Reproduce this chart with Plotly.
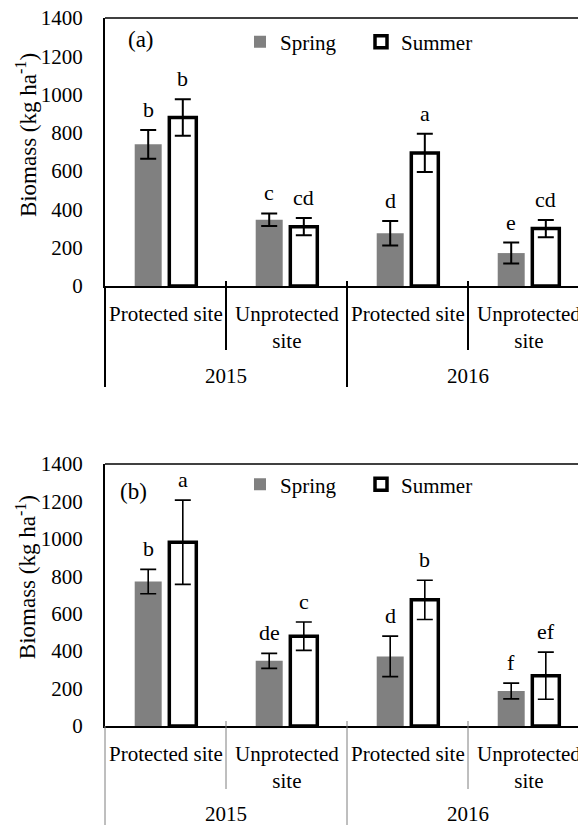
import plotly.graph_objects as go

# ---------------- data ----------------
sites = ["Protected site", "Unprotected<br>site", "Protected site", "Unprotected<br>site"]
years = ["2015", "2016"]
seasons = ["Spring", "Summer"]

# Panel (a)
a_spring = [740, 346, 276, 172]
a_spring_err = [75, 33, 64, 55]
a_summer = [880, 310, 695, 300]
a_summer_err = [95, 45, 100, 45]
a_spring_letters = ["b", "c", "d", "e"]
a_summer_letters = ["b", "cd", "a", "cd"]

# Panel (b)
b_spring = [772, 348, 372, 187]
b_spring_err = [65, 40, 108, 42]
b_summer = [982, 480, 674, 269]
b_summer_err = [225, 76, 105, 126]
b_spring_letters = ["b", "de", "d", "f"]
b_summer_letters = ["a", "c", "b", "ef"]

# ---------------- style ----------------
FONT = "Liberation Serif, Times New Roman, Times, serif"
W, H = 578, 825
GRAY = "#808080"
BARGAP = 0.428
BARGROUPGAP = 0.22
slot = (1 - BARGAP) / 2
offs = [-slot / 2, slot / 2]

x_idx = list(range(len(sites)))

fig = go.Figure()

panels = [
    dict(xa="x", ya="y", leg="legend", sp=a_spring, spe=a_spring_err, su=a_summer, sue=a_summer_err,
         spl=a_spring_letters, sul=a_summer_letters, ew=2.0),
    dict(xa="x2", ya="y2", leg="legend2", sp=b_spring, spe=b_spring_err, su=b_summer, sue=b_summer_err,
         spl=b_spring_letters, sul=b_summer_letters, ew=1.6),
]

for p in panels:
    fig.add_trace(go.Bar(
        x=x_idx, y=p["sp"], name=seasons[0], xaxis=p["xa"], yaxis=p["ya"], legend=p["leg"],
        marker=dict(color=GRAY, line=dict(width=0)),
        error_y=dict(type="data", array=p["spe"], color="black", thickness=p["ew"], width=8),
    ))
    fig.add_trace(go.Bar(
        x=x_idx, y=p["su"], name=seasons[1], xaxis=p["xa"], yaxis=p["ya"], legend=p["leg"],
        marker=dict(color="white", line=dict(width=3.5, color="black")),
        error_y=dict(type="data", array=p["sue"], color="black", thickness=p["ew"], width=8),
    ))

annotations = []
shapes = []

def letters(xref, yref, vals, errs, labs, off):
    for i, (v, e, t) in enumerate(zip(vals, errs, labs)):
        annotations.append(dict(
            x=i + off, y=v + e, xref=xref, yref=yref, text=t, showarrow=False,
            yanchor="bottom", yshift=6, font=dict(family=FONT, size=22, color="black")))

axis_common_x = dict(range=[-0.5, 3.409], showticklabels=False, showgrid=False, zeroline=False,
                     showline=True, linecolor="black", linewidth=2, ticks="", fixedrange=True,
                     automargin=False)
axis_common_y = dict(range=[0, 1400], dtick=200, showgrid=False, zeroline=False,
                     showline=True, linecolor="black", linewidth=2, ticks="",
                     ticklabelstandoff=16, automargin=False, fixedrange=True,
                     tickfont=dict(family=FONT, size=21, color="black"))

x_dom = [105 / W, 1.0]
ya_dom = [1 - 286 / H, 1 - 18 / H]
yb_dom = [1 - 726 / H, 1 - 464 / H]

fig.update_layout(
    xaxis=dict(domain=x_dom, anchor="y", **axis_common_x),
    yaxis=dict(domain=ya_dom, anchor="x", **axis_common_y),
    xaxis2=dict(domain=x_dom, anchor="y2", **axis_common_x),
    yaxis2=dict(domain=yb_dom, anchor="x2", **axis_common_y),
)

panel_cfg = [
    dict(xr="x", yr="y", p=panels[0], tag="(a)", tagx=0.044, tagy=0.918,
         sepcol="black", sepw=2.0, inner_bot=-(350 - 286) / 268, outer_bot=-(387 - 286) / 268,
         left_col="black", left_w=2.0, left_bot=-(387 - 286) / 268, span=268, titley=0.563),
    dict(xr="x2", yr="y2", p=panels[1], tag="(b)", tagx=0.027, tagy=0.894,
         sepcol="#7f7f7f", sepw=1.0, inner_bot=-(789 - 726) / 262, outer_bot=-(825 - 726) / 262,
         left_col="#7f7f7f", left_w=1.0, left_bot=-(825 - 726) / 262, span=262, titley=0.568),
]

for c in panel_cfg:
    xr, yr, p = c["xr"], c["yr"], c["p"]
    xd, yd = xr + " domain", yr + " domain"
    letters(xr, yr, p["sp"], p["spe"], p["spl"], offs[0])
    letters(xr, yr, p["su"], p["sue"], p["sul"], offs[1])
    # top border
    shapes.append(dict(type="line", xref=xd, yref=yd, x0=0, x1=1, y0=1, y1=1,
                       line=dict(color="black", width=1.5)))
    # category separators
    top = 5 / c["span"]
    for i in range(len(sites) - 1):
        bot = c["outer_bot"] if (i + 1) % 2 == 0 else c["inner_bot"]
        shapes.append(dict(type="line", xref=xr, yref=yd, x0=i + 0.5, x1=i + 0.5, y0=top, y1=bot,
                           line=dict(color=c["sepcol"], width=c["sepw"])))
    # left line extension below axis
    shapes.append(dict(type="line", xref=xd, yref=yd, x0=0, x1=0, y0=0, y1=c["left_bot"],
                       line=dict(color=c["left_col"], width=c["left_w"])))
    # site labels
    for i, s in enumerate(sites):
        annotations.append(dict(x=i, y=-14 / c["span"], xref=xr, yref=yd, text=s, showarrow=False,
                                yanchor="top", align="center",
                                font=dict(family=FONT, size=21, color="black")))
    # year labels
    for j, yv in enumerate(years):
        annotations.append(dict(x=2 * j + 0.5, y=-(376 - 286) / 268, xref=xr, yref=yd, text=yv,
                                showarrow=False, yanchor="middle",
                                font=dict(family=FONT, size=21, color="black")))
    # panel tag
    annotations.append(dict(x=c["tagx"], y=c["tagy"], xref=xd, yref=yd, text=c["tag"], showarrow=False,
                            xanchor="left", yanchor="middle",
                            font=dict(family=FONT, size=23, color="black")))
    # y title
    annotations.append(dict(x=26 / W, y=c["titley"], xref="paper", yref=yd,
                            text="Biomass (kg ha<sup>-1</sup>)", textangle=-90, showarrow=False,
                            xanchor="center", yanchor="middle",
                            font=dict(family=FONT, size=23, color="black")))

leg_common = dict(orientation="h", xanchor="left", yanchor="middle", bgcolor="rgba(0,0,0,0)",
                  font=dict(family=FONT, size=21, color="black"), itemclick=False,
                  entrywidth=76, entrywidthmode="pixels", tracegroupgap=0)

fig.update_layout(
    width=W, height=H,
    margin=dict(l=0, r=0, t=0, b=0, autoexpand=False),
    paper_bgcolor="white", plot_bgcolor="white",
    barmode="group", bargap=BARGAP, bargroupgap=BARGROUPGAP,
    legend=dict(x=240 / W, y=ya_dom[0] + 0.91 * (ya_dom[1] - ya_dom[0]), xref="paper", yref="paper", **leg_common),
    legend2=dict(x=240 / W, y=yb_dom[0] + 0.921 * (yb_dom[1] - yb_dom[0]), xref="paper", yref="paper", **leg_common),
    annotations=annotations,
    shapes=shapes,
    showlegend=True,
)

fig.write_html("out.html", config={"displayModeBar": False},
               post_script="document.body.style.margin='0';document.body.style.overflow='hidden';")
